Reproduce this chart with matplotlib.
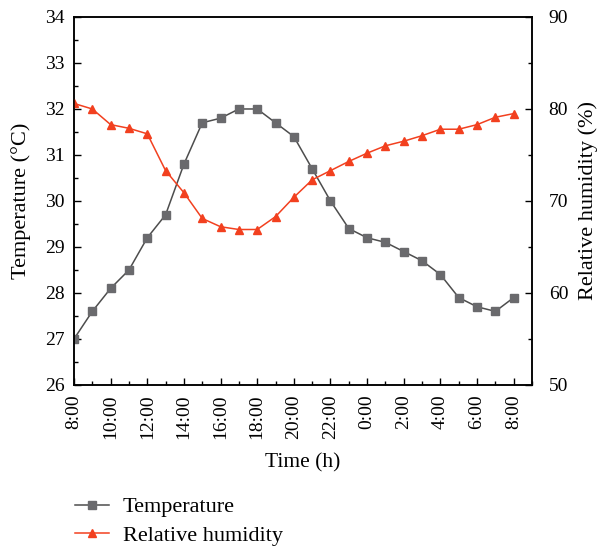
import matplotlib
matplotlib.use("Agg")
import matplotlib.pyplot as plt
from matplotlib.ticker import MultipleLocator

plt.rcParams['font.family'] = ['Liberation Serif', 'DejaVu Serif']

# Hourly readings from 8:00 to 8:00 next day
hours = list(range(25))
tick_labels = ["8:00", "10:00", "12:00", "14:00", "16:00", "18:00", "20:00",
               "22:00", "0:00", "2:00", "4:00", "6:00", "8:00"]
temperature = [27.0, 27.6, 28.1, 28.5, 29.2, 29.7, 30.8, 31.7, 31.8, 32.0, 32.0,
               31.7, 31.4, 30.7, 30.0, 29.4, 29.2, 29.1, 28.9, 28.7, 28.4, 27.9,
               27.7, 27.6, 27.9]
humidity = [80.6, 80.0, 78.3, 77.9, 77.3, 73.3, 70.9, 68.1, 67.2, 66.9, 66.9,
            68.3, 70.4, 72.3, 73.3, 74.3, 75.2, 76.0, 76.5, 77.1, 77.8, 77.8,
            78.3, 79.1, 79.5]

temp_color = "#4d4d4d"
temp_marker = "#6a6a6d"
hum_color = "#f2401f"

fig = plt.figure(figsize=(6.03, 5.46), dpi=100)
ax = fig.add_axes([0.1227, 0.2949, 0.7596, 0.6740])
ax2 = ax.twinx()

l1, = ax.plot(hours, temperature, color=temp_color, lw=1.1, marker="s",
              ms=5.5, mfc=temp_marker, mec=temp_marker, label="Temperature")
l2, = ax2.plot(hours, humidity, color=hum_color, lw=1.1, marker="^",
               ms=5.5, mfc=hum_color, mec=hum_color, label="Relative humidity")

ax.set_xlim(0, 25)
ax.set_ylim(26, 34)
ax2.set_ylim(50, 90)

ax.set_xticks(hours[::2])
ax.set_xticklabels(tick_labels, rotation=90)
ax.xaxis.set_minor_locator(MultipleLocator(1))
ax.yaxis.set_major_locator(MultipleLocator(1))
ax.yaxis.set_minor_locator(MultipleLocator(0.5))
ax2.yaxis.set_major_locator(MultipleLocator(10))
ax2.yaxis.set_minor_locator(MultipleLocator(5))

for a in (ax, ax2):
    a.tick_params(which="major", direction="in", length=5, width=1, labelsize=14)
    a.tick_params(which="minor", direction="in", length=3, width=1)
    for s in a.spines.values():
        s.set_linewidth(1.1)
ax.tick_params(axis="both", which="both", top=False, right=False)
ax.tick_params(axis="y", which="major", pad=7)
ax.tick_params(axis="x", which="major", pad=7)
ax2.tick_params(axis="y", which="both", left=False)
ax2.tick_params(axis="y", which="major", pad=12)

ax.set_xlabel("Time (h)", fontsize=15.5, labelpad=10)
ax.set_ylabel("Temperature (°C)", fontsize=16, labelpad=10)
ax2.set_ylabel("Relative humidity (%)", fontsize=16, labelpad=7)

fig.legend(handles=[l1, l2], loc="upper left", bbox_to_anchor=(0.124, 0.090),
           frameon=False, fontsize=16, handlelength=1.55, labelspacing=0.34,
           handletextpad=0.6, borderpad=0, borderaxespad=0)

fig.savefig("out.png", dpi=100)
